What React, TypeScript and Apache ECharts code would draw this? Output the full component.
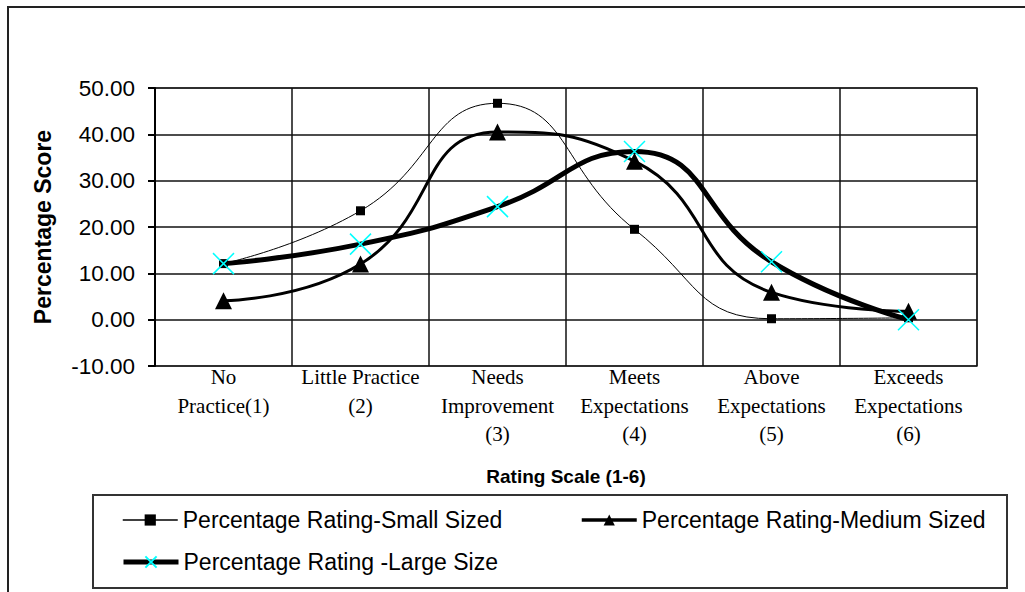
import React, { useEffect, useRef } from "react";
import * as echarts from "echarts";

// Rating scale categories (x axis)
const categories = [
  "No\nPractice(1)",
  "Little Practice\n(2)",
  "Needs\nImprovement\n(3)",
  "Meets\nExpectations\n(4)",
  "Above\nExpectations\n(5)",
  "Exceeds\nExpectations\n(6)",
];

// Percentage score per rating, by organisation size
const smallSized = [12.1, 23.5, 46.7, 19.5, 0.2, 0.4];
const mediumSized = [4.1, 12.0, 40.5, 34.2, 5.9, 1.8];
const largeSize = [12.1, 16.3, 24.4, 36.3, 12.5, 0.0];

const seriesNames = [
  "Percentage Rating-Small Sized",
  "Percentage Rating-Medium Sized",
  "Percentage Rating -Large Size",
];

const crossPath = "path://M0,0L10,10M10,0L0,10";

export default function App() {
  const ref = useRef<HTMLDivElement>(null);

  useEffect(() => {
    if (!ref.current) return;
    const chart = echarts.init(ref.current, undefined, { renderer: "svg" });
    const sans = "Arial, 'Liberation Sans', sans-serif";
    const serif = "'Times New Roman', 'Liberation Serif', serif";

    const legendBase = {
      orient: "horizontal" as const,
      padding: 0,
      itemWidth: 55,
      itemHeight: 14,
      selectedMode: false,
      textStyle: { fontFamily: sans, fontSize: 23, color: "#000", lineHeight: 24 },
    };

    chart.setOption({
      animation: false,
      backgroundColor: "#fff",
      grid: {
        left: 155,
        right: 48,
        top: 88,
        bottom: 226,
        show: true,
        borderColor: "#8c8c8c",
        borderWidth: 2,
      },
      xAxis: {
        type: "category",
        data: categories,
        boundaryGap: true,
        position: "bottom",
        axisLine: { show: false, onZero: false },
        axisTick: { show: false },
        splitLine: { show: true, interval: 0, lineStyle: { color: "#111", width: 1.5 } },
        axisLabel: {
          interval: 0,
          margin: -3,
          fontFamily: serif,
          fontSize: 21,
          lineHeight: 28.5,
          color: "#000",
        },
        name: "Rating Scale (1-6)",
        nameLocation: "middle",
        nameGap: 101,
        nameTextStyle: { fontFamily: sans, fontSize: 19, fontWeight: "bold", color: "#000" },
      },
      yAxis: {
        type: "value",
        min: -10,
        max: 50,
        interval: 10,
        axisLine: { show: true, lineStyle: { color: "#000", width: 2 } },
        axisTick: { show: true, length: 7, lineStyle: { color: "#000", width: 2 } },
        splitLine: { show: true, lineStyle: { color: "#111", width: 1.5 } },
        axisLabel: {
          margin: 20,
          fontFamily: sans,
          fontSize: 22.5,
          color: "#000",
          formatter: (v: number) => v.toFixed(2),
        },
        name: "Percentage Score",
        nameLocation: "middle",
        nameRotate: 90,
        nameGap: 101,
        nameTextStyle: { fontFamily: sans, fontSize: 23, fontWeight: "bold", color: "#000" },
      },
      legend: [
        {
          ...legendBase,
          data: [seriesNames[0]],
          left: 122,
          top: 508,
          lineStyle: { width: 1.5, color: "#000" },
        },
        {
          ...legendBase,
          data: [seriesNames[1]],
          left: 580,
          top: 508,
          lineStyle: { width: 3.5, color: "#000" },
        },
        {
          ...legendBase,
          data: [seriesNames[2]],
          left: 121,
          top: 550,
          lineStyle: { width: 5, color: "#000" },
        },
      ],
      graphic: [
        {
          type: "rect",
          silent: true,
          shape: { x: 8, y: 7, width: 1100, height: 700 },
          style: { fill: "none", stroke: "#222", lineWidth: 2 },
        },
        {
          type: "rect",
          silent: true,
          shape: { x: 93, y: 495, width: 914, height: 93 },
          style: { fill: "none", stroke: "#333", lineWidth: 2 },
        },
      ],
      series: [
        {
          name: seriesNames[0],
          type: "line",
          data: smallSized,
          smooth: 0.5,
          symbol: "rect",
          symbolSize: 9,
          lineStyle: { color: "#000", width: 1 },
          itemStyle: { color: "#000" },
        },
        {
          name: seriesNames[1],
          type: "line",
          data: mediumSized,
          smooth: 0.5,
          symbol: "triangle",
          symbolSize: 17,
          lineStyle: { color: "#000", width: 3 },
          itemStyle: { color: "#000" },
        },
        {
          name: seriesNames[2],
          type: "line",
          data: largeSize,
          smooth: 0.5,
          symbol: crossPath,
          symbolSize: 21,
          lineStyle: { color: "#000", width: 5 },
          itemStyle: { color: "#00ffff", borderColor: "#00ffff", borderWidth: 1.5 },
        },
      ],
    });

    return () => chart.dispose();
  }, []);

  return (
    <div
      ref={ref}
      style={{ position: "absolute", left: 0, top: 0, width: 1025, height: 592, background: "#fff" }}
    />
  );
}
